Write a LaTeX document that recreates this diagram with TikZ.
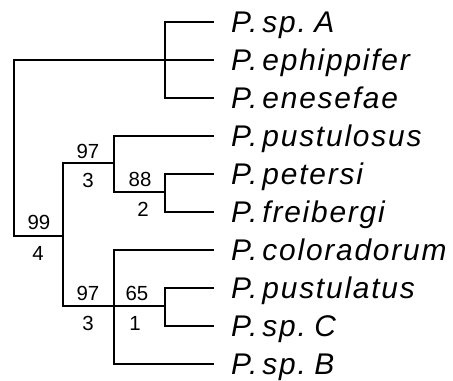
\documentclass[tikz,border=0pt]{standalone}
\usepackage{fontspec}
\setmainfont{Liberation Sans}
\newfontfamily\leaffont[LetterSpace=6,WordSpace=0.5]{Liberation Sans}
\newcommand\leafsize{\leaffont\itshape\fontsize{30}{30}\selectfont}
\newcommand\numsize{\fontsize{20.5}{20.5}\selectfont}
\begin{document}
\begin{tikzpicture}[x=1bp,y=-1bp,
  br/.style={line width=1.8bp},
  leaf/.style={anchor=base west, inner sep=0pt, font=\leafsize},
  bs/.style={anchor=base, inner sep=0pt, font=\numsize}]
\useasboundingbox (0,0) rectangle (453,380);
% internal nodes
\coordinate (r) at (14,148);
\coordinate (a) at (165,60);
\coordinate (b) at (63,236);
\coordinate (c) at (114,163);
\coordinate (e) at (165,192);
\coordinate (d) at (114,306);
\coordinate (f) at (165,306);
% leaf tips
\foreach \i/\y in {1/22,2/60,3/98,4/136,5/174,6/212,7/250,8/288,9/326,10/364}{
  \coordinate (t\i) at (214,\y);
}
% leaf labels
\node[leaf] (l1) at (231,32.5) {P. sp. A};
\node[leaf] (l2) at (231,70.5) {P. ephippifer};
\node[leaf] (l3) at (231,108.5) {P. enesefae};
\node[leaf] (l4) at (231,146.5) {P. pustulosus};
\node[leaf] (l5) at (231,184.5) {P. petersi};
\node[leaf] (l6) at (231,222.5) {P. freibergi};
\node[leaf] (l7) at (231,260.5) {P. coloradorum};
\node[leaf] (l8) at (231,298.5) {P. pustulatus};
\node[leaf] (l9) at (231,336.5) {P. sp. C};
\node[leaf] (l10) at (231,374.5) {P. sp. B};
% branches
\draw[br] (r) |- (a);
\draw[br] (r) |- (b);
\draw[br] (a) |- (t1);
\draw[br] (a) -- (t2);
\draw[br] (a) |- (t3);
\draw[br] (b) |- (c);
\draw[br] (b) |- (d);
\draw[br] (c) |- (t4);
\draw[br] (c) |- (e);
\draw[br] (e) |- (t5);
\draw[br] (e) |- (t6);
\draw[br] (d) |- (t7);
\draw[br] (d) -- (f);
\draw[br] (d) |- (t10);
\draw[br] (f) |- (t8);
\draw[br] (f) |- (t9);
% support values
\node[bs] (s99) at (39,229) {99};
\node[bs] (s4) at (38,260) {4};
\node[bs] (s97a) at (88,158) {97};
\node[bs] (s3a) at (88,187) {3};
\node[bs] (s88) at (140,186) {88};
\node[bs] (s2) at (143,216) {2};
\node[bs] (s97b) at (88,300) {97};
\node[bs] (s3b) at (88,330) {3};
\node[bs] (s65) at (137,300) {65};
\node[bs] (s1) at (135,330) {1};
\end{tikzpicture}
\end{document}
